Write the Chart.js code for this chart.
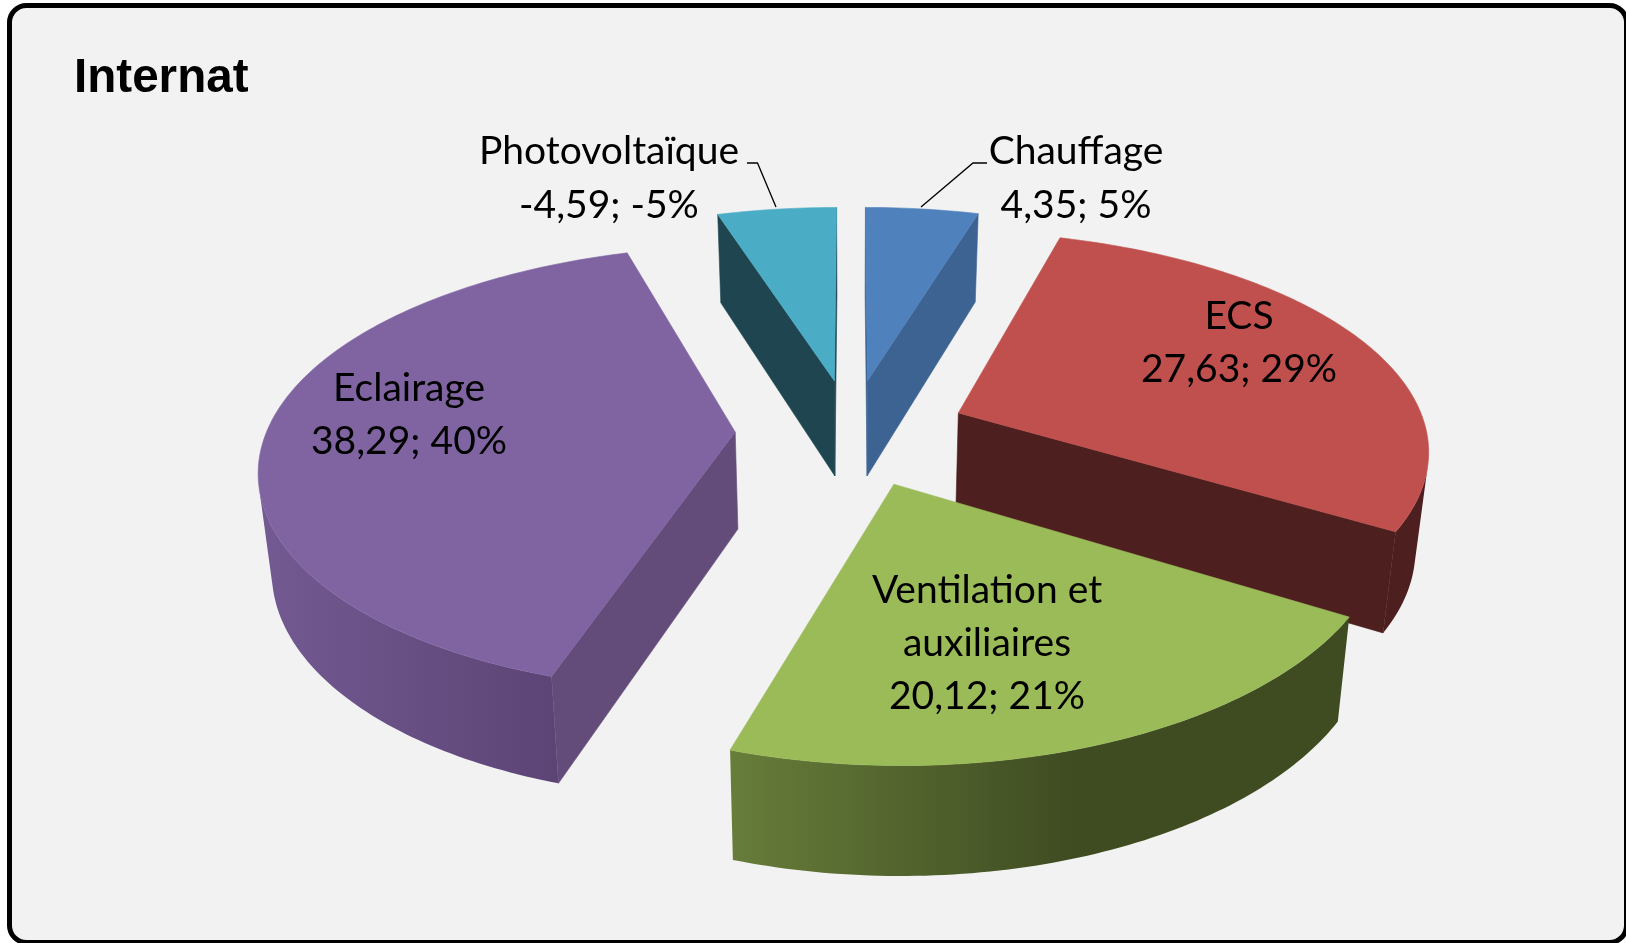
<!DOCTYPE html>
<html lang="fr"><head><meta charset="utf-8"><title>Internat</title>
<style>html,body{margin:0;padding:0;background:#fff;overflow:hidden}canvas{display:block}</style>
<script src="https://cdn.jsdelivr.net/npm/chart.js@4/dist/chart.umd.min.js"></script>
</head><body><canvas id="c" width="1626" height="943"></canvas>
<script>
const chartTitle = "Internat";
const categories = ["Chauffage","ECS","Ventilation et auxiliaires","Eclairage","Photovoltaïque"];
const values = [4.35,27.63,20.12,38.29,-4.59];
const topColors = ["#4F81BD","#C0504D","#9BBB59","#8064A2","#4BACC6"];
const sideColors = ["#3C6392","#4D1F1F","#3F4C22","#634C7A","#1F4550"];
const wallFrom = ["#3C6392","#4D1F1F","#677D3A","#735A92","#1F4550"];
const wallTo   = ["#3C6392","#4D1F1F","#3F4C22","#563F6E","#1F4550"];
const labelLines = [["Chauffage"],["ECS"],["Ventilation et","auxiliaires"],["Eclairage"],["Photovoltaïque"]];
const labelCenters = [[1076,164],[1239,329],[987,603],[409,401],[609,164]];
const labelGaps = [54,53,53,53,54];
const leaders = [[[987,163],[973,163],[921,207]],null,null,null,[[747,163],[757.5,163],[776,207]]];
const drawOrder = [4,0,3,1,2];

const view = {cx:851.4, cy:432, s:468.7, t:216.7, px:0.15, py:0.162, shrink:0.977, d0:88, d1:0.04, y0:204};
const total = values.reduce((a,b)=>a+Math.abs(b),0);
const fr = v => v.toFixed(2).replace(".",",");
const project = (u,v)=>[view.cx+view.s*u/(1-view.px*v), view.cy+view.t*v/(1-view.py*v)];
const drop = ([x,y])=>[view.cx+(x-view.cx)*view.shrink, y+view.d0+view.d1*(y-view.y0)];

function trace(ctx,pts){pts.forEach((p,i)=>i?ctx.lineTo(p[0],p[1]):ctx.moveTo(p[0],p[1]));ctx.closePath();}
function paint(ctx,fill){ctx.fillStyle=fill;ctx.fill();ctx.strokeStyle=fill;ctx.lineWidth=0.6;ctx.stroke();}
function poly(ctx,pts,fill){ctx.beginPath();trace(ctx,pts);paint(ctx,fill);}
const area = pts=>pts.reduce((s,p,i)=>{const q=pts[(i+1)%pts.length];return s+p[0]*q[1]-q[0]*p[1];},0)/2;

const pie3d = {
  id:"pie3d",
  beforeDraw(chart){
    const c=chart.ctx;c.save();c.fillStyle="#fff";c.fillRect(0,0,1626,943);
    c.beginPath();c.roundRect(9.5,5.5,1617,937,17);c.fillStyle="#F2F2F2";c.fill();
    c.lineWidth=5;c.strokeStyle="#000";c.stroke();c.restore();
  },
  beforeDatasetsDraw(chart){
    const c=chart.ctx, arcs=chart.getDatasetMeta(0).data;
    c.save();
    drawOrder.forEach(i=>{
      const a=arcs[i], e=a.options.offset/a.outerRadius, mid=(a.startAngle+a.endAngle)/2;
      const ou=e*Math.cos(mid), ov=e*Math.sin(mid);
      const apex=project(ou,ov), rim=[], n=Math.max(8,Math.ceil((a.endAngle-a.startAngle)*60));
      for(let k=0;k<=n;k++){const t=a.startAngle+(a.endAngle-a.startAngle)*k/n;rim.push(project(ou+Math.cos(t),ov+Math.sin(t)));}
      const rimB=rim.map(drop), apexB=drop(apex);
      const xs=rim.concat(rimB).map(p=>p[0]);
      const g=c.createLinearGradient(Math.min(...xs),0,Math.max(...xs),0);
      g.addColorStop(0,wallFrom[i]);
      g.addColorStop(i===2?0.55:1,wallTo[i]);
      if(i===2)g.addColorStop(1,wallTo[i]);
      c.beginPath();
      for(let k=0;k<n;k++){
        const q=[rim[k],rim[k+1],rimB[k+1],rimB[k]];
        if(area(q)<0)trace(c,q);
      }
      c.fillStyle=g;c.fill();
      const f1=[apex,rim[0],rimB[0],apexB], f2=[apex,rim[n],rimB[n],apexB];
      if(area(f1)<0)poly(c,f1,sideColors[i]);
      if(area(f2)>0)poly(c,f2,sideColors[i]);
      poly(c,[apex].concat(rim),topColors[i]);
    });
    c.restore();
    return false;
  },
  afterDraw(chart){
    const c=chart.ctx;c.save();
    c.fillStyle="#000";c.font="bold 47.6px 'Liberation Sans'";c.textAlign="left";c.textBaseline="alphabetic";
    c.fillText(chartTitle,74,92);
    c.strokeStyle="#000";c.lineWidth=1.3;
    leaders.forEach(l=>{if(!l)return;c.beginPath();l.forEach((p,i)=>i?c.lineTo(p[0],p[1]):c.moveTo(p[0],p[1]));c.stroke();});
    c.font="39px Lato";c.textAlign="center";
    values.forEach((v,i)=>{
      const lines=labelLines[i].concat([fr(v)+"; "+Math.round(100*v/total)+"%"]);
      const [x,y]=labelCenters[i];
      lines.forEach((s,k)=>c.fillText(s,x,y+k*labelGaps[i]));
    });
    c.restore();
  }
};

new Chart(document.getElementById("c"),{
  type:"pie",
  data:{labels:categories,datasets:[{data:values,backgroundColor:topColors,offset:104,borderWidth:0}]},
  options:{responsive:false,animation:false,events:[],layout:{padding:0},
    plugins:{legend:{display:false},tooltip:{enabled:false},title:{display:false}}},
  plugins:[pie3d]
});
</script></body></html>
